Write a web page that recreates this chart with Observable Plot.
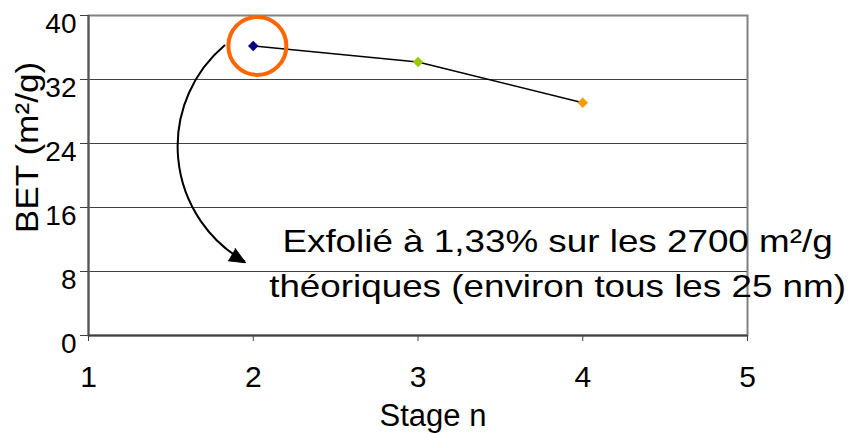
<!DOCTYPE html>
<html>
<head>
<meta charset="utf-8">
<script src="https://cdn.jsdelivr.net/npm/d3@7"></script>
<script src="https://cdn.jsdelivr.net/npm/@observablehq/plot@0.6"></script>
<style>
  html, body { margin: 0; padding: 0; background: #fff; }
  svg { font-family: "Liberation Sans", Arial, sans-serif; }
</style>
</head>
<body>
<div id="chart"></div>
<script>
const stages = [2, 3, 4];
const betValues = [36.2, 34.2, 29.1];
const pointColors = ["#000080", "#99cc00", "#ff9900"];
const yTicks = [0, 8, 16, 24, 32, 40];
const xTicks = [1, 2, 3, 4, 5];
const gridValues = [8, 16, 24, 32];
const xLabel = "Stage n";
const yLabel = "BET (m²/g)";
const annotationLines = ["Exfolié à 1,33% sur les 2700 m²/g", "théoriques (environ tous les 25 nm)"];

const rows = stages.map((s, i) => ({stage: s, bet: betValues[i], color: pointColors[i]}));
const font = "Liberation Sans, Arial, sans-serif";

const chart = Plot.plot({
  width: 856,
  height: 433,
  marginLeft: 88,
  marginRight: 109,
  marginTop: 15,
  marginBottom: 98,
  style: {fontFamily: font, background: "#fff", overflow: "visible"},
  x: {domain: [1, 5], ticks: xTicks},
  y: {domain: [0, 40], ticks: yTicks},
  marks: [
    Plot.ruleY(gridValues, {stroke: "#404040", strokeWidth: 1}),
    Plot.frame({stroke: "#808080", strokeWidth: 2}),
    Plot.ruleX([1], {stroke: "#555", strokeWidth: 2}),
    Plot.ruleY([0], {stroke: "#404040", strokeWidth: 2}),
    // y ticks (marks only) and y tick labels (text only)
    Plot.axisY({ticks: yTicks, tickSize: 8, stroke: "#404040", tickFormat: () => "", label: null}),
    Plot.axisY({ticks: yTicks, tickSize: 0, tickPadding: 12, fontSize: 28, dy: 9, fill: "#000", label: null, tickFormat: d => String(d)}),
    Plot.axisX({ticks: xTicks, tickSize: 6, tickPadding: 24, fontSize: 30, stroke: "#404040", fill: "#000", label: null, tickFormat: d => String(d)}),
    Plot.text([xLabel], {text: d => d, frameAnchor: "bottom", textAnchor: "middle", lineAnchor: "middle", dx: 15, dy: 81, fontSize: 31, fill: "#000"}),
    Plot.text([yLabel], {text: d => d, frameAnchor: "left", textAnchor: "middle", lineAnchor: "middle", rotate: -90, dx: -61, dy: -28, fontSize: 32, fill: "#000"}),
    Plot.line(rows, {x: "stage", y: "bet", stroke: "#000", strokeWidth: 1.5}),
    Plot.dot(rows, {x: "stage", y: "bet", symbol: "diamond2", r: 4.5, fill: "color", stroke: "color", strokeWidth: 0.5}),
    Plot.dot([0], {x: 2.025, y: 36.2, r: 29, stroke: "#ff6600", strokeWidth: 4, fill: "none"}),
    Plot.arrow([0], {x1: 1.825, y1: 36.25, x2: 1.945, y2: 9.3, bend: -55, headLength: 0, stroke: "#000", strokeWidth: 2}),
    Plot.vector([0], {x: 1.953, y: 9.1, shape: "spike", anchor: "end", length: 16, r: 7, rotate: 120, fill: "#000", stroke: "#000", strokeWidth: 1}),
    Plot.text([annotationLines.join("\n")], {text: d => d, x: 3.847, y: 14.4, lineAnchor: "top", textAnchor: "middle", lineHeight: 1.41, fontSize: 32, fill: "#000"})
  ]
});
document.getElementById("chart").appendChild(chart);

// horizontal stretch of the annotation and y-label text, as in the reference picture
function stretch(node, factor) {
  const len = node.getComputedTextLength();
  node.setAttribute("textLength", (len * factor).toFixed(1));
  node.setAttribute("lengthAdjust", "spacingAndGlyphs");
}
d3.select(chart).selectAll("tspan, text").each(function() {
  const t = this.textContent;
  if (annotationLines.includes(t) && this.children.length === 0) stretch(this, 1.15);
  if (t === yLabel && this.children.length === 0) stretch(this, 1.1);
});
</script>
</body>
</html>
